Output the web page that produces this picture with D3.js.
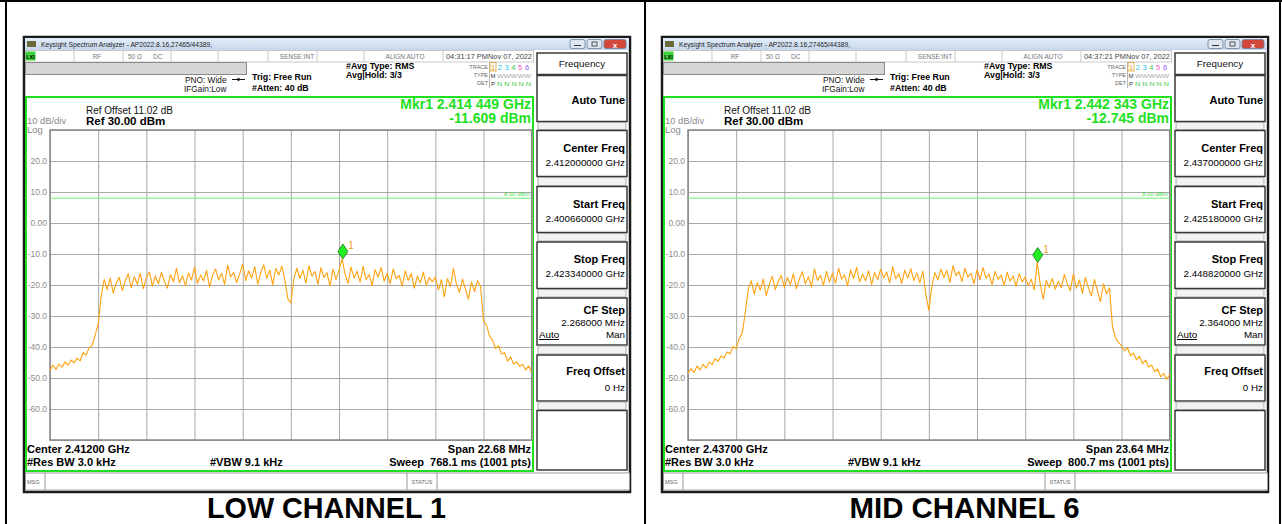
<!DOCTYPE html>
<html>
<head>
<meta charset="utf-8">
<script src="https://cdn.jsdelivr.net/npm/d3@7"></script>
<style>
  body { margin: 0; background: #fff; }
  svg { display: block; font-family: "Liberation Sans", Arial, sans-serif; }
</style>
</head>
<body>
<svg id="chart" width="1282" height="524"></svg>
<script>
// ---- chart data ----
const channelTitles = ["LOW CHANNEL 1", "MID CHANNEL 6"];
const centerFreqsGHz = [2.412, 2.437];
const spansMHz = [22.68, 23.64];
const sweepTimes = ["768.1", "800.7"];
const timeStamps = ["04:31:17 PM", "04:37:21 PM"];
const markerFreqsGHz = [2.414449, 2.442343];
const markerLevels = [-11.609, -12.745];
const refLevel = 30, dbPerDiv = 10, refOffset = 11.02;
const displayLineLevel = 8.0;
const yTickValues = [20, 10, 0, -10, -20, -30, -40, -50, -60];
const yTickLabels = ["20.0", "10.0", "0.00", "-10.0", "-20.0", "-30.0", "-40.0", "-50.0", "-60.0"];

// trace samples in dBm, evenly spaced across the span
const lowTrace = [
  -47.5,-45.8,-47.2,-45.5,-46.5,-44.8,-45.9,-44.2,-45.1,-43.6,-44.5,-41.8,-42.6,-40.2,-39.5,-36.2,
  -32.5,-23.5,-18.2,-21.5,-17.8,-22.6,-19.4,-17.5,-21.8,-18.6,-16.4,-20.9,-17.3,-19.8,-16.2,-21.2,
  -17.6,-15.8,-20.4,-17.1,-19.6,-15.9,-18.8,-21.0,-16.7,-18.9,-14.6,-19.3,-17.0,-20.2,-16.1,-18.4,
  -14.2,-19.5,-16.8,-18.7,-15.3,-20.6,-16.9,-14.8,-18.3,-16.2,-19.8,-13.6,-17.4,-15.9,-19.2,-16.5,
  -13.2,-18.6,-15.4,-17.8,-14.1,-19.7,-16.0,-13.5,-17.9,-15.2,-19.9,-14.6,-16.8,-13.9,-18.4,-24.5,
  -25.8,-18.0,-14.6,-17.9,-15.2,-19.4,-13.8,-17.1,-15.6,-19.8,-14.4,-17.6,-16.0,-20.3,-14.9,-18.2,
  -15.3,-11.6,-16.4,-19.5,-14.2,-17.8,-15.5,-19.1,-14.0,-18.3,-16.6,-20.2,-15.1,-17.4,-14.3,-18.8,
  -16.2,-19.6,-14.8,-18.0,-16.9,-20.4,-15.4,-18.5,-16.3,-21.0,-17.2,-19.3,-15.8,-20.1,-17.6,-18.9,
  -17.4,-21.6,-18.3,-23.8,-17.9,-20.5,-14.6,-19.8,-22.4,-18.1,-21.3,-24.6,-19.0,-22.1,-18.6,-20.4,
  -31.5,-33.0,-36.4,-37.8,-40.5,-39.6,-42.3,-41.8,-44.6,-43.2,-45.5,-44.8,-46.3,-45.6,-47.4,-46.1,-48.2
];
const midTrace = [
  -48.5,-47.0,-48.2,-46.1,-47.4,-45.6,-46.8,-44.9,-45.7,-43.8,-44.6,-42.9,-43.5,-41.6,-42.2,-39.8,
  -40.5,-37.2,-35.6,-29.0,-21.5,-18.6,-22.9,-19.3,-21.7,-18.1,-23.4,-19.8,-17.2,-21.5,-18.8,-16.9,
  -20.8,-17.6,-19.9,-16.4,-21.2,-18.0,-15.7,-19.6,-17.3,-20.7,-14.8,-18.5,-16.9,-20.1,-15.6,-19.0,
  -16.2,-19.4,-14.6,-18.1,-16.7,-20.3,-15.1,-17.9,-14.3,-19.0,-16.5,-18.6,-15.4,-19.8,-16.0,-18.2,
  -14.9,-17.7,-15.8,-19.3,-14.1,-18.0,-16.4,-19.5,-15.2,-17.8,-14.7,-18.6,-16.1,-19.2,-15.5,-23.0,
  -28.2,-20.5,-16.0,-18.4,-14.9,-17.6,-15.3,-19.2,-13.8,-17.0,-15.7,-18.9,-14.6,-17.5,-16.2,-19.6,
  -15.0,-18.3,-14.4,-17.8,-16.5,-19.9,-15.6,-18.2,-16.8,-20.1,-15.9,-18.7,-17.1,-20.4,-16.3,-19.0,
  -17.4,-20.2,-18.1,-21.6,-12.7,-19.8,-24.6,-18.5,-20.7,-17.9,-21.4,-18.8,-20.9,-16.6,-19.7,-21.8,
  -16.5,-21.0,-18.4,-22.7,-17.6,-20.8,-23.5,-18.2,-21.9,-25.4,-19.6,-22.8,-21.0,-33.5,-37.0,-38.6,
  -39.5,-41.2,-40.3,-42.8,-41.9,-44.1,-43.0,-45.4,-44.2,-46.5,-45.8,-48.0,-47.1,-49.6,-48.5,-50.4,-48.9
];
const traces = [lowTrace, midTrace];

const svg = d3.select("#chart");
const green = "#1fe01f";

// shared gradient for the window title bars
const defs = svg.append("defs");
const grad = defs.append("linearGradient").attr("id", "titleGrad").attr("x1", 0).attr("y1", 0).attr("x2", 0).attr("y2", 1);
grad.append("stop").attr("offset", "0%").attr("stop-color", "#e4edf8");
grad.append("stop").attr("offset", "100%").attr("stop-color", "#c6d7ec");

// outer table lines
svg.append("line").attr("x1", 0).attr("x2", 1282).attr("y1", 1).attr("y2", 1).attr("stroke", "#000").attr("stroke-width", 2);
[6, 645, 1280].forEach(x => {
  svg.append("line").attr("x1", x).attr("x2", x).attr("y1", 0).attr("y2", 524).attr("stroke", "#000").attr("stroke-width", 2);
});

function txt(g, x, y, s, size, opts = {}) {
  const t = g.append("text").attr("x", x).attr("y", y).text(s)
    .attr("font-size", size)
    .attr("fill", opts.fill || "#000")
    .attr("font-weight", opts.bold ? "bold" : "normal")
    .attr("text-anchor", opts.anchor || "start")
    .style("white-space", "pre");
  if (opts.len) t.attr("textLength", opts.len).attr("lengthAdjust", "spacingAndGlyphs");
  return t;
}

function drawPanel(p) {
  const g = svg.append("g").attr("transform", `translate(${p * 638},0)`);
  const spanGHz = spansMHz[p] / 1000;
  const startGHz = centerFreqsGHz[p] - spanGHz / 2;
  const stopGHz = centerFreqsGHz[p] + spanGHz / 2;

  // window body + title bar
  g.append("rect").attr("x", 24).attr("y", 37).attr("width", 606).attr("height", 455)
    .attr("fill", "#fff").attr("stroke", "#1a1a1a").attr("stroke-width", 2.5);
  g.append("rect").attr("x", 25).attr("y", 38).attr("width", 604).attr("height", 12).attr("fill", "url(#titleGrad)");
  g.append("rect").attr("x", 27).attr("y", 41).attr("width", 9).attr("height", 6).attr("fill", "#6b6b3a");
  txt(g, 41, 47, "Keysight Spectrum Analyzer - AP2022.8.16,27465/44389,", 7.2, { fill: "#222", len: 171 });
  // window buttons
  [[570, 15, "#dde6f1"], [587, 15, "#dde6f1"], [604, 22, "#d2483c"]].forEach(([bx, bw, c]) => {
    g.append("rect").attr("x", bx).attr("y", 39.5).attr("width", bw).attr("height", 9).attr("rx", 2)
      .attr("fill", c).attr("stroke", "#6d7f99").attr("stroke-width", 0.8);
  });
  g.append("line").attr("x1", 574).attr("x2", 581).attr("y1", 45.5).attr("y2", 45.5).attr("stroke", "#333");
  g.append("rect").attr("x", 592).attr("y", 42).attr("width", 5).attr("height", 4).attr("fill", "none").attr("stroke", "#333").attr("stroke-width", 0.8);
  txt(g, 615, 47.5, "x", 8, { fill: "#fff", bold: true, anchor: "middle" });

  // status row
  g.append("rect").attr("x", 25.5).attr("y", 50.5).attr("width", 508).attr("height", 11.5)
    .attr("fill", "#fff").attr("stroke", "#bbb").attr("stroke-width", 0.8);
  g.append("rect").attr("x", 25.5).attr("y", 51.5).attr("width", 10).attr("height", 9).attr("fill", "#3bd43b");
  txt(g, 30.5, 59, "LXI", 5.5, { anchor: "middle", bold: true });
  [74, 123, 171, 218, 268, 317, 364, 443].forEach(sx => {
    g.append("line").attr("x1", sx).attr("x2", sx).attr("y1", 51).attr("y2", 62).attr("stroke", "#bbb").attr("stroke-width", 0.8);
  });
  const grey = { fill: "#777" };
  txt(g, 97, 59, "RF", 6.5, { ...grey, anchor: "middle" });
  txt(g, 128, 59, "50 Ω", 6.5, grey);
  txt(g, 153, 59, "DC", 6.5, grey);
  txt(g, 297, 59, "SENSE:INT", 6.5, { ...grey, anchor: "middle" });
  txt(g, 405, 59, "ALIGN AUTO", 6.5, { ...grey, anchor: "middle" });
  txt(g, 446, 59, timeStamps[p] + "Nov 07, 2022", 6.6, { fill: "#444", len: 86 });

  // grey message bar
  g.append("rect").attr("x", 25.5).attr("y", 62.5).attr("width", 221).attr("height", 12)
    .attr("fill", "#d6d6d6").attr("stroke", "#8a8a8a").attr("stroke-width", 1);

  // acquisition settings
  txt(g, 185, 83, "PNO: Wide", 8.3, { fill: "#111" });
  txt(g, 184, 91.5, "IFGain:Low", 8.3, { fill: "#111" });
  g.append("line").attr("x1", 232).attr("x2", 245).attr("y1", 79.5).attr("y2", 79.5).attr("stroke", "#111");
  g.append("circle").attr("cx", 238.5).attr("cy", 79.5).attr("r", 1.4).attr("fill", "#111");
  txt(g, 252, 80, "Trig: Free Run", 8.8, { bold: true });
  txt(g, 252, 90.5, "#Atten: 40 dB", 8.8, { bold: true });
  txt(g, 346, 68.5, "#Avg Type: RMS", 8.8, { bold: true });
  txt(g, 346, 78, "Avg|Hold: 3/3", 8.8, { bold: true });

  // trace legend block
  txt(g, 488, 69, "TRACE", 5.5, { fill: "#666", anchor: "end" });
  txt(g, 488, 77, "TYPE", 5.5, { fill: "#666", anchor: "end" });
  txt(g, 488, 85, "DET", 5.5, { fill: "#666", anchor: "end" });
  g.append("line").attr("x1", 489.5).attr("x2", 489.5).attr("y1", 62).attr("y2", 88).attr("stroke", "#999").attr("stroke-width", 0.7);
  g.append("rect").attr("x", 490).attr("y", 62.5).attr("width", 6).attr("height", 8.5).attr("fill", "none").attr("stroke", "#e0a030").attr("stroke-width", 0.8);
  const traceColors = ["#e8a000", "#19c3e8", "#19c3e8", "#44c444", "#ff55c0", "#9060ff"];
  traceColors.forEach((c, i) => txt(g, 493 + i * 6.8, 70, String(i + 1), 7.5, { fill: c, anchor: "middle" }));
  txt(g, 493, 78, "M", 6, { fill: "#333", anchor: "middle" });
  txt(g, 497, 78, "WWWWW", 5, { fill: "#aaa", len: 34 });
  txt(g, 493, 86, "P", 6, { fill: "#333", anchor: "middle" });
  txt(g, 497, 86, "N N N N N", 6, { fill: "#3bc43b", len: 34 });

  // green measurement frame
  g.append("rect").attr("x", 26).attr("y", 97).attr("width", 507).attr("height", 374)
    .attr("fill", "none").attr("stroke", green).attr("stroke-width", 2);

  txt(g, 86, 113.5, `Ref Offset ${refOffset.toFixed(2)} dB`, 10, { fill: "#111" });
  txt(g, 86, 125, `Ref ${refLevel.toFixed(2)} dBm`, 11.5, { bold: true });
  txt(g, 27, 124, `${dbPerDiv} dB/div`, 9.4, { fill: "#888" });
  txt(g, 27, 133, "Log", 9.4, { fill: "#888" });

  const mf = markerFreqsGHz[p].toFixed(6);
  txt(g, 531, 108.5, `Mkr1 ${mf.slice(0, 5)} ${mf.slice(5)} GHz`, 14, { fill: green, bold: true, anchor: "end" });
  txt(g, 531, 122.5, `${markerLevels[p].toFixed(3)} dBm`, 14, { fill: green, bold: true, anchor: "end" });

  // ---- plot area ----
  const W = 481.7, H = 310;
  const plot = g.append("g").attr("transform", "translate(50,130)");
  const x = d3.scaleLinear().domain([startGHz, stopGHz]).range([0, W]);
  const y = d3.scaleLinear().domain([refLevel - 10 * dbPerDiv, refLevel]).range([H, 0]);

  plot.append("rect").attr("width", W).attr("height", H).attr("fill", "#fff");

  const levels = d3.range(11).map(k => refLevel - k * dbPerDiv);
  const yAxis = plot.append("g")
    .call(d3.axisLeft(y).tickValues(levels).tickSize(-W).tickPadding(3)
      .tickFormat(d => { const i = yTickValues.indexOf(d); return i < 0 ? "" : yTickLabels[i]; }));
  yAxis.select(".domain").remove();
  yAxis.selectAll("line").attr("stroke", "#a8a8a8");
  yAxis.selectAll("text").attr("fill", "#8c8c8c").attr("font-size", 8.5).attr("font-family", "Liberation Sans, Arial");

  const freqs = d3.range(11).map(k => startGHz + k * spanGHz / 10);
  const xAxis = plot.append("g").attr("transform", `translate(0,${H})`)
    .call(d3.axisBottom(x).tickValues(freqs).tickSize(-H).tickFormat(""));
  xAxis.select(".domain").remove();
  xAxis.selectAll("line").attr("stroke", "#a8a8a8");

  plot.append("rect").attr("width", W).attr("height", H).attr("fill", "none").attr("stroke", "#888").attr("stroke-width", 1.5);

  // display line
  plot.append("line").attr("x1", 0).attr("x2", W).attr("y1", y(displayLineLevel)).attr("y2", y(displayLineLevel))
    .attr("stroke", "#6ff06f").attr("stroke-width", 1);
  txt(plot, W - 2, y(displayLineLevel) - 2, `${displayLineLevel.toFixed(2)} dBm`, 6, { fill: "#4cd64c", anchor: "end" });

  // trace
  const data = traces[p];
  const line = d3.line()
    .x((d, i) => x(startGHz + i * spanGHz / (data.length - 1)))
    .y(d => y(d));
  plot.append("path").datum(data).attr("d", line)
    .attr("fill", "none").attr("stroke", "#ffa210").attr("stroke-width", 1.1).attr("stroke-linejoin", "round");

  // marker
  const mx = x(markerFreqsGHz[p]), my = y(markerLevels[p]);
  plot.append("path").attr("d", `M${mx},${my - 15} L${mx + 5},${my - 7.5} L${mx},${my} L${mx - 5},${my - 7.5} Z`)
    .attr("fill", "#22ee22").attr("stroke", "#117711").attr("stroke-width", 0.8);
  txt(plot, mx + 5.5, my - 10, "1", 10, { fill: "#f0a020" });

  // bottom annotations
  txt(g, 27, 453, `Center ${centerFreqsGHz[p].toFixed(5)} GHz`, 11, { bold: true });
  txt(g, 27, 465.5, "#Res BW 3.0 kHz", 11, { bold: true });
  txt(g, 210, 465.5, "#VBW 9.1 kHz", 11, { bold: true });
  txt(g, 531, 453, `Span ${spansMHz[p].toFixed(2)} MHz`, 11, { bold: true, anchor: "end" });
  txt(g, 531, 465.5, `Sweep  ${sweepTimes[p]} ms (1001 pts)`, 11, { bold: true, anchor: "end" });

  // message / status row
  g.append("rect").attr("x", 25.5).attr("y", 473).attr("width", 604).attr("height", 17)
    .attr("fill", "#fff").attr("stroke", "#999").attr("stroke-width", 1);
  [45, 407, 437].forEach(sx => g.append("line").attr("x1", sx).attr("x2", sx).attr("y1", 473).attr("y2", 490).attr("stroke", "#999"));
  txt(g, 27, 484, "MSG", 5.5, { fill: "#666" });
  txt(g, 422, 484, "STATUS", 5.5, { fill: "#666", anchor: "middle" });

  // ---- softkey panel ----
  const kx = 537, kw = 90, kr = kx + kw - 2;
  const key = (y0, y1) => g.append("rect").attr("x", kx).attr("y", y0).attr("width", kw).attr("height", y1 - y0)
    .attr("fill", "#fff").attr("stroke", "#3a3a3a").attr("stroke-width", 1.5);
  const gap = (y0, y1) => g.append("rect").attr("x", kx + 1).attr("y", y0).attr("width", kw - 2).attr("height", y1 - y0)
    .attr("fill", "#f2f2f2").attr("stroke", "#999").attr("stroke-width", 0.8);
  key(53, 74.5);
  txt(g, kx + kw / 2, 66.5, "Frequency", 9.8, { anchor: "middle", fill: "#111" });
  key(75.5, 121.5); gap(122.5, 129.5);
  key(130.5, 176.5); gap(177.5, 185.5);
  key(186.5, 232.5); gap(233.5, 241);
  key(242, 288.5); gap(289.5, 297);
  key(298, 345); gap(346, 354);
  key(355, 401); gap(402, 409.5);
  key(410.5, 470);

  const fmtG = v => `${v.toFixed(9)} GHz`;
  txt(g, kr, 104, "Auto Tune", 11, { bold: true, anchor: "end" });
  txt(g, kr, 151.5, "Center Freq", 11, { bold: true, anchor: "end" });
  txt(g, kr, 165.5, fmtG(centerFreqsGHz[p]), 9.8, { anchor: "end" });
  txt(g, kr, 207.5, "Start Freq", 11, { bold: true, anchor: "end" });
  txt(g, kr, 221.5, fmtG(startGHz), 9.8, { anchor: "end" });
  txt(g, kr, 263, "Stop Freq", 11, { bold: true, anchor: "end" });
  txt(g, kr, 277, fmtG(stopGHz), 9.8, { anchor: "end" });
  txt(g, kr, 313.5, "CF Step", 11, { bold: true, anchor: "end" });
  txt(g, kr, 325.5, `${(spansMHz[p] / 10).toFixed(6)} MHz`, 9.8, { anchor: "end" });
  txt(g, kx + 2, 338, "Auto", 9.8, {}).attr("text-decoration", "underline");
  txt(g, kr, 338, "Man", 9.8, { anchor: "end" });
  txt(g, kr, 375, "Freq Offset", 11, { bold: true, anchor: "end" });
  txt(g, kr, 390.5, "0 Hz", 9.8, { anchor: "end" });

  // channel caption
  txt(g, 326.5, 517.5, channelTitles[p], 30, { bold: true, anchor: "middle", len: p === 0 ? 239 : 230 });
}

[0, 1].forEach(drawPanel);
</script>
</body>
</html>
